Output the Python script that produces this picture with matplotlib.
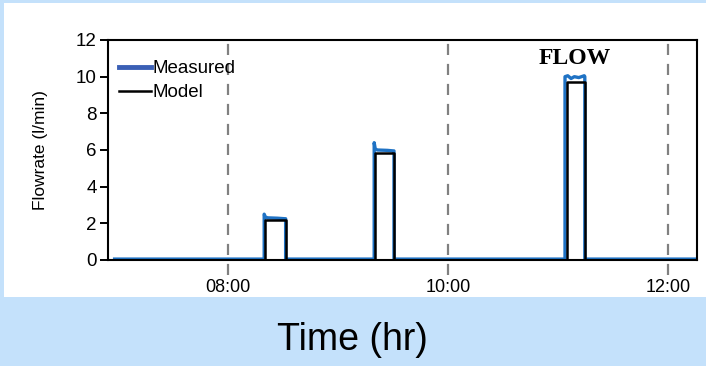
import matplotlib.pyplot as plt
from matplotlib.patches import Rectangle

# time in hours of the day
meas_t = [6.97, 8.10, 8.33, 8.33, 8.34, 8.36, 8.45, 8.52, 8.525, 8.525,
          9.33, 9.33, 9.34, 9.36, 9.45, 9.505, 9.51, 9.51,
          11.065, 11.065, 11.09, 11.12, 11.15, 11.19, 11.24, 11.245, 11.245, 12.25]
meas_v = [0.05, 0.05, 0.05, 2.5, 2.35, 2.3, 2.28, 2.25, 2.25, 0.05,
          0.05, 6.4, 6.05, 6.0, 5.98, 5.95, 5.95, 0.05,
          0.05, 10.0, 10.05, 9.9, 10.0, 9.95, 10.05, 10.0, 0.05, 0.05]

model_t = [7.69, 8.34, 8.34, 8.525, 8.525, 9.34, 9.34, 9.51, 9.51,
           11.08, 11.08, 11.245, 11.245, 11.83]
model_v = [0, 0, 2.2, 2.2, 0, 0, 5.85, 5.85, 0, 0, 9.7, 9.7, 0, 0]

hour_ticks = [8, 10, 12]
hour_labels = ["08:00", "10:00", "12:00"]
y_ticks = [0, 2, 4, 6, 8, 10, 12]

plt.rcParams["font.family"] = "Liberation Sans"

bg = "#c4e1fb"
fig = plt.figure(figsize=(7.06, 3.66), dpi=100, facecolor=bg)
panel = Rectangle((4 / 706, 69 / 366), 702 / 706, 294 / 366,
                  transform=fig.transFigure, facecolor="white",
                  edgecolor="none", zorder=-5)
fig.add_artist(panel)

ax = fig.add_axes([108 / 706, 106 / 366, 589 / 706, 220 / 366])
ax.set_facecolor("white")

ax.plot(meas_t, meas_v, color="#1f72c4", lw=2.4, zorder=2)
ax.plot(model_t, model_v, color="black", lw=1.8, zorder=3)

for h in hour_ticks:
    ax.axvline(h, ymin=-0.07, ymax=1, color="#808080", lw=1.6,
               ls=(0, (5, 4)), clip_on=False, zorder=1)

ax.set_xlim(6.91, 12.265)
ax.set_ylim(0, 12)
ax.set_yticks(y_ticks)
ax.set_xticks(hour_ticks)
ax.set_xticklabels(hour_labels)
ax.tick_params(axis="x", length=0, pad=14, labelsize=13)
ax.tick_params(axis="y", length=6, width=1.4, labelsize=13.5, pad=2)
for s in ax.spines.values():
    s.set_linewidth(1.5)

ax.set_ylabel("Flowrate (l/min)", fontsize=12.5, labelpad=20)

# legend
ax.plot([], [], color="#3a5fb5", lw=3.5, label="Measured")
ax.plot([], [], color="black", lw=1.8, label="Model")
handles, labels = ax.get_legend_handles_labels()
ax.legend(handles[-2:], labels[-2:], loc="upper left", frameon=False,
          fontsize=13.5, handlelength=1.7, handletextpad=0.1,
          labelspacing=0.38, borderaxespad=0.2, bbox_to_anchor=(0.0, 0.96))

ax.text(0.793, 0.918, "FLOW", transform=ax.transAxes, fontsize=17,
        fontweight="bold", family="Liberation Serif", ha="center", va="center")

fig.text(352 / 706, 26 / 366, "Time (hr)", fontsize=27, ha="center",
         va="center")

fig.savefig("out.png", dpi=100, facecolor=bg)
